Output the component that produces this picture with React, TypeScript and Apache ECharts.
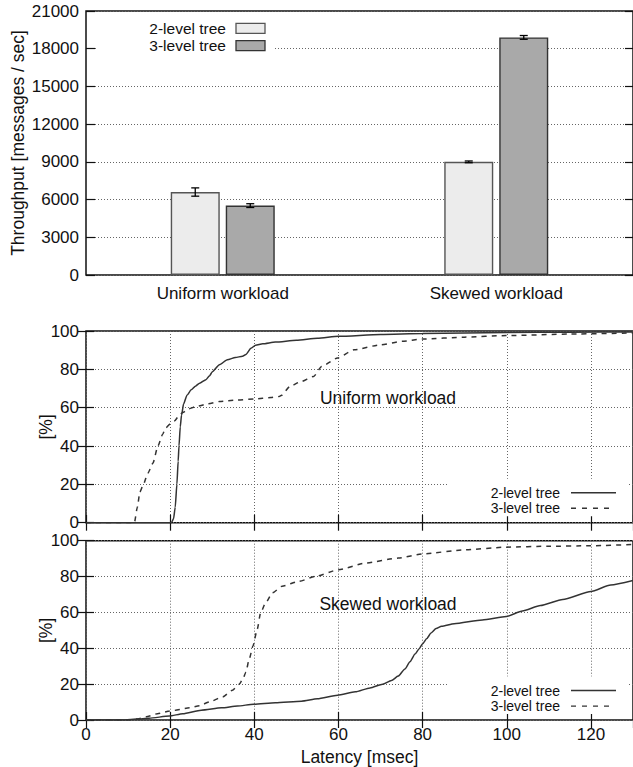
import { useEffect, useRef } from 'react';
import * as echarts from 'echarts';

// Throughput per workload (messages / sec) with error-bar half widths
const categories = ['Uniform workload', 'Skewed workload'];
const twoLevelThroughput = [6600, 9000];
const threeLevelThroughput = [5520, 18900];
const twoLevelError = [330, 70];
const threeLevelError = [150, 150];
const throughputMax = 21000;
const throughputStep = 3000;

// Latency CDFs: [latency msec, cumulative %]
const uniformTwoLevel = [
  [0, 0], [20.3, 0], [20.8, 2], [21.2, 8], [21.6, 20], [21.9, 32], [22.1, 40], [22.4, 50],
  [22.7, 56], [23.2, 62], [24, 66.5], [25, 69.3], [26, 71.2], [27, 72.8], [28.5, 74.6],
  [29.3, 76.5], [30.1, 78.9], [31.7, 82.4], [33.6, 85], [35.5, 86.2], [37.2, 86.8],
  [38, 87.8], [39.2, 91], [40.3, 92.6], [42, 93.3], [45, 94.2], [50, 95.2], [55, 96.2],
  [60, 97.2], [70, 98.2], [80, 98.7], [90, 99], [100, 99.2], [115, 99.4], [130, 99.5],
];
const uniformThreeLevel = [
  [0, 0], [11.5, 0], [12.2, 8], [12.8, 16], [13.6, 19.7], [14.7, 25.8], [15.9, 31],
  [17.1, 40], [18.2, 46], [18.9, 49.3], [20, 51.5], [21, 53], [22, 55.5], [23, 57.5],
  [24.5, 59.5], [26.2, 60.6], [29, 62], [31.7, 63.2], [36, 64], [40, 64.5], [44, 65.3],
  [45.9, 65.8], [46.5, 66.5], [48.4, 71], [51, 73.5], [54.1, 76.3], [56, 81.5],
  [59.8, 85.9], [63.7, 90.2], [70, 92.8], [75.1, 94.6], [79.9, 95.8], [90, 96.8],
  [99.9, 97.6], [115, 98.4], [130, 99],
];
const skewedTwoLevel = [
  [0, 0], [9.3, 0], [12, 0.5], [15, 1], [19.8, 2.2], [23, 3.5], [27.4, 5.5], [32.2, 6.8],
  [36, 7.8], [39.8, 8.8], [45, 9.6], [51.2, 10.5], [55, 11.8], [59.8, 13.8], [64, 15.7],
  [67.5, 17.9], [70.5, 20], [72.6, 22], [74.2, 24.5], [75.8, 28.5], [77, 32.5],
  [78.2, 36.8], [79.2, 39.8], [80, 42.5], [81, 45.5], [82, 48.5], [83.2, 51],
  [84.5, 52.3], [87.5, 53.7], [94.2, 55.8], [99.9, 57.7], [103.7, 60.8], [108, 63.8],
  [113.3, 67.2], [120, 71.7], [124.7, 75.3], [130, 77.8],
];
const skewedThreeLevel = [
  [0, 0], [10, 0], [12, 0.5], [14.3, 1.8], [17, 3.5], [19.9, 5], [24.6, 6.8], [27, 8],
  [29.3, 10.1], [32.5, 12.9], [34.8, 16.6], [36.4, 19.9], [37.3, 23], [38, 26.7],
  [38.8, 34.1], [39.7, 41.4], [40.7, 50.7], [41.5, 59.9], [42.7, 65.4], [44.3, 70.9],
  [46.6, 74.6], [50.6, 77.3], [54.5, 80.1], [60, 83.8], [66.4, 87.5], [74.2, 90.3],
  [80.1, 92.7], [90, 94.9], [99.8, 96.4], [110, 96.9], [119.9, 97.2], [130, 97.9],
];
const latencyMax = 130;
const latencyStep = 20;
const percentMax = 100;
const percentStep = 20;

const FONT = '"Liberation Sans", Arial, Helvetica, sans-serif';
const INK = '#111';
const GRID_LINE = { lineStyle: { color: '#666', width: 1, type: [1, 2] } };
const FRAME = { show: true, borderColor: '#111', borderWidth: 1.5, backgroundColor: 'transparent' };
const LIGHT_FILL = '#ececec';
const DARK_FILL = '#a9a9a9';
const CURVE = '#333';
const BAR_WIDTH = 49;
const BAR_GAP = 6;

const PLOT_LEFT = 86;
const PLOT_WIDTH = 550;

function errorBars(name: string, means: number[], errs: number[], shift: number) {
  return {
    type: 'custom',
    name,
    xAxisIndex: 0,
    yAxisIndex: 0,
    z: 5,
    data: means.map((m, i) => [i, m - errs[i], m + errs[i]]),
    encode: { x: 0, y: [1, 2] },
    renderItem: (_params: any, api: any) => {
      const lo = api.coord([api.value(0), api.value(1)]);
      const hi = api.coord([api.value(0), api.value(2)]);
      const x = lo[0] + shift;
      const cap = 4;
      const style = { stroke: '#000', lineWidth: 1.3 };
      return {
        type: 'group',
        children: [
          { type: 'line', shape: { x1: x, y1: lo[1], x2: x, y2: hi[1] }, style },
          { type: 'line', shape: { x1: x - cap, y1: lo[1], x2: x + cap, y2: lo[1] }, style },
          { type: 'line', shape: { x1: x - cap, y1: hi[1], x2: x + cap, y2: hi[1] }, style },
        ],
      };
    },
  };
}

function valueAxis(gridIndex: number, max: number, step: number, opts: any) {
  return {
    type: 'value',
    gridIndex,
    min: 0,
    max,
    interval: step,
    axisLine: { show: false },
    axisTick: { show: true, inside: true, length: 8, lineStyle: { color: INK, width: 1.2 } },
    axisLabel: { show: false },
    splitLine: { show: false },
    ...opts,
  };
}

const tickLabel = {
  show: true,
  fontSize: 17,
  fontFamily: FONT,
  color: INK,
  formatter: (v: number | string) => String(v),
};
const titleStyle = { fontSize: 17.5, fontFamily: FONT, color: INK };

function lineLegend(top: number, rowGap: number) {
  const rows = ['2-level tree', '3-level tree'];
  const out: any[] = [
    { type: 'rect', z: 20, shape: { x: 448, y: top - 14, width: 179, height: rowGap + 22 }, style: { fill: '#fff' } },
  ];
  rows.forEach((t, i) => {
    const y = top + i * rowGap;
    out.push({
      type: 'text', z: 21, x: 560, y,
      style: { text: t, fontSize: 14, fontFamily: FONT, fill: INK, align: 'right', verticalAlign: 'middle' },
    });
    out.push({
      type: 'line', z: 21,
      shape: { x1: 571, y1: y, x2: i === 0 ? 616 : 611, y2: y },
      style: { stroke: CURVE, lineWidth: 1.4, lineDash: i === 0 ? null : [5, 6] },
    });
  });
  return out;
}

function barLegend() {
  const rows = [
    { t: '2-level tree', fill: LIGHT_FILL, stroke: '#555' },
    { t: '3-level tree', fill: DARK_FILL, stroke: '#333' },
  ];
  const out: any[] = [
    { type: 'rect', z: 20, shape: { x: 96, y: 14, width: 178, height: 42 }, style: { fill: '#fff' } },
  ];
  rows.forEach((r, i) => {
    const y = 28.3 + i * 17.4;
    out.push({
      type: 'text', z: 21, x: 226, y,
      style: { text: r.t, fontSize: 15.5, fontFamily: FONT, fill: INK, align: 'right', verticalAlign: 'middle' },
    });
    out.push({
      type: 'rect', z: 21,
      shape: { x: 236, y: y - 5, width: 29, height: 10 },
      style: { fill: r.fill, stroke: r.stroke, lineWidth: 1.3 },
    });
  });
  return out;
}

export default function App() {
  const ref = useRef<HTMLDivElement>(null);

  useEffect(() => {
    if (!ref.current) return;
    const chart = echarts.init(ref.current, undefined, { renderer: 'svg' });
    const shift = (BAR_WIDTH + BAR_GAP) / 2;

    chart.setOption({
      animation: false,
      backgroundColor: '#fff',
      grid: [
        { left: PLOT_LEFT, top: 11, width: PLOT_WIDTH, height: 264, ...FRAME },
        { left: PLOT_LEFT, top: 331, width: PLOT_WIDTH, height: 191.7, ...FRAME },
        { left: PLOT_LEFT, top: 540.7, width: PLOT_WIDTH, height: 181, ...FRAME },
      ],
      xAxis: [
        {
          type: 'category',
          gridIndex: 0,
          data: categories,
          axisLine: { show: false },
          axisTick: { show: false },
          axisLabel: { ...tickLabel, margin: 10 },
        },
        valueAxis(1, latencyMax, latencyStep, { position: 'bottom', splitLine: { show: true, ...GRID_LINE } }),
        valueAxis(1, latencyMax, latencyStep, { position: 'top' }),
        valueAxis(2, latencyMax, latencyStep, {
          position: 'bottom',
          splitLine: { show: true, ...GRID_LINE },
          axisLabel: { ...tickLabel, margin: 6, showMaxLabel: false },
          name: 'Latency [msec]',
          nameLocation: 'middle',
          nameGap: 28,
          nameMoveOverlap: false,
          nameTextStyle: titleStyle,
        }),
        valueAxis(2, latencyMax, latencyStep, { position: 'top' }),
      ],
      yAxis: [
        valueAxis(0, throughputMax, throughputStep, {
          position: 'left',
          axisTick: { show: true, inside: true, length: 9, lineStyle: { color: INK, width: 1.2 } },
          splitLine: { show: true, ...GRID_LINE },
          axisLabel: { ...tickLabel, margin: 7 },
          name: 'Throughput [messages / sec]',
          nameLocation: 'middle',
          nameRotate: 90,
          nameGap: 59,
          nameMoveOverlap: false,
          nameTextStyle: titleStyle,
        }),
        valueAxis(0, throughputMax, throughputStep, { position: 'right' }),
        valueAxis(1, percentMax, percentStep, {
          position: 'left',
          splitLine: { show: true, ...GRID_LINE },
          axisLabel: { ...tickLabel, margin: 7 },
          name: '[%]',
          nameLocation: 'middle',
          nameRotate: 90,
          nameGap: 31,
          nameMoveOverlap: false,
          nameTextStyle: titleStyle,
        }),
        valueAxis(1, percentMax, percentStep, { position: 'right' }),
        valueAxis(2, percentMax, percentStep, {
          position: 'left',
          splitLine: { show: true, ...GRID_LINE },
          axisLabel: { ...tickLabel, margin: 7 },
          name: '[%]',
          nameLocation: 'middle',
          nameRotate: 90,
          nameGap: 31,
          nameMoveOverlap: false,
          nameTextStyle: titleStyle,
        }),
        valueAxis(2, percentMax, percentStep, { position: 'right' }),
      ],
      series: [
        {
          type: 'bar',
          name: '2-level tree',
          xAxisIndex: 0,
          yAxisIndex: 0,
          barWidth: BAR_WIDTH,
          barGap: `${(BAR_GAP / BAR_WIDTH) * 100}%`,
          data: twoLevelThroughput,
          itemStyle: { color: LIGHT_FILL, borderColor: '#555', borderWidth: 1.4 },
        },
        {
          type: 'bar',
          name: '3-level tree',
          xAxisIndex: 0,
          yAxisIndex: 0,
          barWidth: BAR_WIDTH,
          barGap: `${(BAR_GAP / BAR_WIDTH) * 100}%`,
          data: threeLevelThroughput,
          itemStyle: { color: DARK_FILL, borderColor: '#333', borderWidth: 1.4 },
        },
        errorBars('2-level tree error', twoLevelThroughput, twoLevelError, -shift),
        errorBars('3-level tree error', threeLevelThroughput, threeLevelError, shift),
        {
          type: 'line', name: 'uniform 2-level', xAxisIndex: 1, yAxisIndex: 2,
          data: uniformTwoLevel, showSymbol: false, symbol: 'none', smooth: 0.2, smoothMonotone: 'x',
          lineStyle: { color: CURVE, width: 1.5 },
        },
        {
          type: 'line', name: 'uniform 3-level', xAxisIndex: 1, yAxisIndex: 2,
          data: uniformThreeLevel, showSymbol: false, symbol: 'none', smooth: 0.2, smoothMonotone: 'x',
          lineStyle: { color: CURVE, width: 1.5, type: [5, 5] },
        },
        {
          type: 'line', name: 'skewed 2-level', xAxisIndex: 3, yAxisIndex: 4,
          data: skewedTwoLevel, showSymbol: false, symbol: 'none', smooth: 0.2, smoothMonotone: 'x',
          lineStyle: { color: CURVE, width: 1.5 },
        },
        {
          type: 'line', name: 'skewed 3-level', xAxisIndex: 3, yAxisIndex: 4,
          data: skewedThreeLevel, showSymbol: false, symbol: 'none', smooth: 0.2, smoothMonotone: 'x',
          lineStyle: { color: CURVE, width: 1.5, type: [5, 5] },
        },
      ],
      graphic: [
        ...barLegend(),
        ...lineLegend(492.7, 15.6),
        ...lineLegend(690.5, 15.6),
        {
          type: 'text', z: 21, x: 388, y: 398.3,
          style: { text: 'Uniform workload', ...titleStyle, fill: INK, align: 'center', verticalAlign: 'middle' },
        },
        {
          type: 'text', z: 21, x: 388, y: 604,
          style: { text: 'Skewed workload', ...titleStyle, fill: INK, align: 'center', verticalAlign: 'middle' },
        },
      ],
    });

    return () => chart.dispose();
  }, []);

  return (
    <div
      ref={ref}
      style={{ position: 'fixed', left: 0, top: 0, width: 633, height: 767, background: '#fff' }}
    />
  );
}
